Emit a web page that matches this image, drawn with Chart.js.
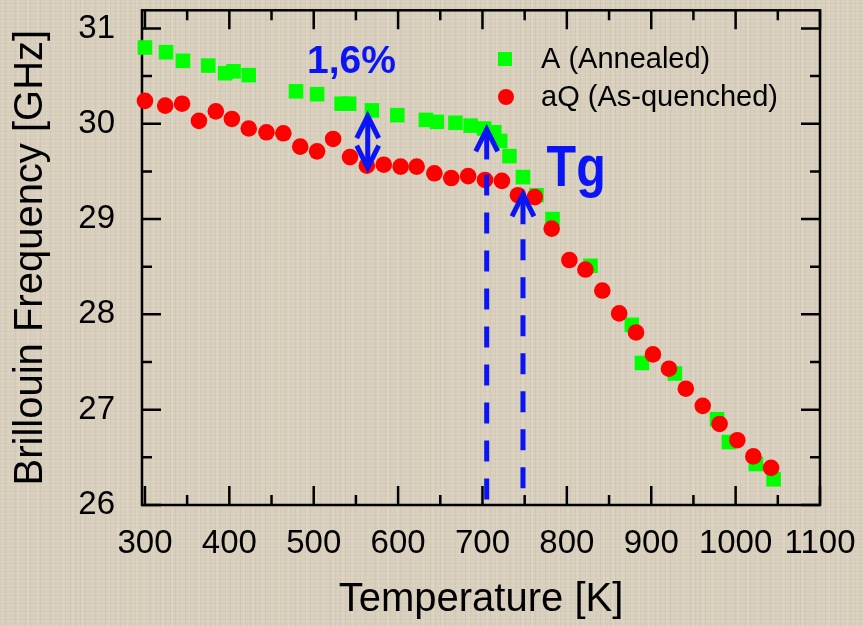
<!DOCTYPE html>
<html>
<head>
<meta charset="utf-8">
<script src="https://cdn.jsdelivr.net/npm/chart.js@4.4.0/dist/chart.umd.min.js"></script>
<style>
    html, body { margin: 0; padding: 0; }
    body {
        width: 863px;
        height: 626px;
        overflow: hidden;
        background-color: #d8cebc;
        background-image:
            repeating-linear-gradient(0deg, rgba(255, 255, 255, 0.10) 0 1px, transparent 1px 4px),
            repeating-linear-gradient(90deg, rgba(110, 95, 75, 0.07) 0 1px, transparent 1px 5px),
            repeating-linear-gradient(90deg, rgba(255, 255, 255, 0.08) 0 2px, transparent 2px 9px);
    }
</style>
</head>
<body>
<canvas id="chart" width="863" height="626"></canvas>
<script>
/* Brillouin frequency vs temperature, annealed vs as-quenched */

// A (Annealed) - green squares
const tempA = [300, 325, 345, 375, 395, 405, 423, 479, 504, 533, 542, 569, 599, 633, 646, 668,
               686, 702, 714, 721, 732, 748, 764, 783, 828, 877, 889, 928, 978, 992, 1024, 1045];
const freqA = [30.80, 30.75, 30.66, 30.61, 30.53, 30.55, 30.51, 30.34, 30.31, 30.21, 30.21, 30.14,
               30.09, 30.04, 30.02, 30.01, 29.98, 29.95, 29.91, 29.82, 29.66, 29.44, 29.25, 29.00,
               28.51, 27.89, 27.49, 27.38, 26.90, 26.66, 26.43, 26.27];

// aQ (As-quenched) - red circles
const tempQ = [300, 324, 344, 364, 384, 403, 423, 444, 464, 484, 504, 523, 543, 563, 583, 603,
               622, 643, 663, 683, 703, 723, 742, 762, 782, 803, 822, 842, 862, 882, 902, 921,
               941, 961, 981, 1002, 1021, 1042];
const freqQ = [30.24, 30.19, 30.21, 30.03, 30.13, 30.05, 29.95, 29.91, 29.90, 29.76, 29.71, 29.84,
               29.65, 29.56, 29.57, 29.55, 29.55, 29.48, 29.43, 29.45, 29.41, 29.40, 29.25, 29.23,
               28.90, 28.57, 28.47, 28.25, 28.01, 27.81, 27.58, 27.43, 27.22, 27.04, 26.85, 26.68,
               26.51, 26.39];

const seriesLabels = ['A (Annealed)', 'aQ (As-quenched)'];
const xTickLabels = [300, 400, 500, 600, 700, 800, 900, 1000, 1100];
const yTickLabels = [26, 27, 28, 29, 30, 31];

// annotations (data coords)
const tgLines = [[705, 29.94], [748, 29.26]];   // [T, arrow tip]
const gapArrow = [564, 30.08, 29.54];           // T, top tip, bottom tip

const BLUE = '#0a14f5';
const FONT = "'Liberation Sans', Arial, sans-serif";
Chart.defaults.font.family = FONT;
Chart.defaults.color = '#000';

const toPoints = (xs, ys) => xs.map((t, i) => ({ x: t, y: ys[i] }));

// box + inward ticks on all four sides
const frame = {
    id: 'frame',
    beforeDatasetsDraw(chart) {
        const { ctx, chartArea: a, scales: { x, y } } = chart;
        ctx.save();
        ctx.strokeStyle = '#000';
        ctx.lineWidth = 2.5;
        ctx.strokeRect(a.left, a.top, a.right - a.left, a.bottom - a.top);
        ctx.beginPath();
        for (let t = 300; t <= 1100; t += 50) {
            const len = t % 100 === 0 ? 19 : 10;
            const px = x.getPixelForValue(t);
            ctx.moveTo(px, a.bottom); ctx.lineTo(px, a.bottom - len);
            ctx.moveTo(px, a.top); ctx.lineTo(px, a.top + len);
        }
        for (let v = 26; v <= 31; v += 0.5) {
            const len = v % 1 === 0 ? 19 : 10;
            const py = y.getPixelForValue(v);
            ctx.moveTo(a.left, py); ctx.lineTo(a.left + len, py);
            ctx.moveTo(a.right, py); ctx.lineTo(a.right - len, py);
        }
        ctx.stroke();
        ctx.restore();
    }
};

function chevron(ctx, x, y, dir) {
    // dir 1: tip points up, -1: tip points down
    ctx.beginPath();
    ctx.moveTo(x - 11, y + dir * 22);
    ctx.lineTo(x, y);
    ctx.lineTo(x + 11, y + dir * 22);
    ctx.stroke();
}

const annotations = {
    id: 'annotations',
    afterDatasetsDraw(chart) {
        const { ctx, chartArea: a, scales: { x, y } } = chart;
        ctx.save();
        ctx.strokeStyle = BLUE;
        ctx.fillStyle = BLUE;
        ctx.lineWidth = 5;
        ctx.lineJoin = 'miter';

        // Tg dashed markers
        tgLines.forEach(([t, tip]) => {
            const px = x.getPixelForValue(t);
            const py = y.getPixelForValue(tip);
            ctx.setLineDash([]);
            ctx.beginPath();
            ctx.moveTo(px, py + 2);
            ctx.lineTo(px, py + 30);
            ctx.stroke();
            chevron(ctx, px, py, 1);
            ctx.setLineDash([21, 17]);
            ctx.beginPath();
            ctx.moveTo(px, py + 45);
            ctx.lineTo(px, a.bottom);
            ctx.stroke();
        });
        ctx.setLineDash([]);

        // double arrow for the 1,6% gap
        const gx = x.getPixelForValue(gapArrow[0]);
        const gTop = y.getPixelForValue(gapArrow[1]);
        const gBot = y.getPixelForValue(gapArrow[2]);
        ctx.beginPath();
        ctx.moveTo(gx, gTop + 2);
        ctx.lineTo(gx, gBot - 2);
        ctx.stroke();
        chevron(ctx, gx, gTop, 1);
        chevron(ctx, gx, gBot, -1);

        // labels
        ctx.textAlign = 'left';
        ctx.textBaseline = 'alphabetic';
        ctx.font = 'bold 39px ' + FONT;
        ctx.fillText('1,6%', x.getPixelForValue(492), y.getPixelForValue(30.53));

        ctx.save();
        ctx.translate(x.getPixelForValue(776), y.getPixelForValue(29.35));
        ctx.scale(0.85, 1);
        ctx.font = 'bold 57px ' + FONT;
        ctx.fillText('Tg', 0, 0);
        ctx.restore();

        ctx.restore();
    }
};

// legend in the upper right of the plot
const legendBox = {
    id: 'legendBox',
    afterDraw(chart) {
        const { ctx } = chart;
        const rows = [
            { y: 59, base: 68, ds: chart.data.datasets[0] },
            { y: 97, base: 106, ds: chart.data.datasets[1] }
        ];
        ctx.save();
        ctx.font = '29px ' + FONT;
        ctx.textAlign = 'left';
        rows.forEach(r => {
            ctx.fillStyle = r.ds.backgroundColor;
            ctx.beginPath();
            if (r.ds.pointStyle === 'rect') {
                ctx.rect(498, r.y - 7, 14, 14);
            } else {
                ctx.arc(506, r.y, 8, 0, Math.PI * 2);
            }
            ctx.fill();
            ctx.fillStyle = '#000';
            ctx.fillText(r.ds.label, 541, r.base);
        });
        ctx.restore();
    }
};

new Chart(document.getElementById('chart'), {
    type: 'scatter',
    data: {
        datasets: [
            {
                label: seriesLabels[0],
                data: toPoints(tempA, freqA),
                pointStyle: 'rect',
                pointRadius: 10.3,
                backgroundColor: '#00ff00',
                borderWidth: 0,
                order: 2,
                clip: false
            },
            {
                label: seriesLabels[1],
                data: toPoints(tempQ, freqQ),
                pointStyle: 'circle',
                pointRadius: 8.3,
                backgroundColor: '#ff0000',
                borderWidth: 0,
                order: 1,
                clip: false
            }
        ]
    },
    options: {
        responsive: false,
        animation: false,
        layout: { padding: { top: 7, right: 43, left: 0, bottom: 0 } },
        plugins: {
            legend: { display: false },
            tooltip: { enabled: false }
        },
        scales: {
            x: {
                type: 'linear',
                min: 296.5,
                max: 1100,
                afterBuildTicks: (s) => { s.ticks = xTickLabels.map(v => ({ value: v })); },
                afterFit: (s) => {
                    s.height = 121;
                    s.paddingLeft = 0;
                    s.paddingRight = 0;
                },
                grid: { display: false, drawTicks: false },
                border: { display: false },
                ticks: {
                    font: { size: 33 },
                    color: '#000',
                    padding: 19,
                    maxRotation: 0,
                    autoSkip: false,
                    callback: (v) => String(v)
                },
                title: {
                    display: true,
                    text: 'Temperature [K]',
                    font: { size: 40 },
                    color: '#000',
                    padding: { top: 0, bottom: 2 }
                }
            },
            y: {
                type: 'linear',
                min: 26,
                max: 31.19,
                afterBuildTicks: (s) => { s.ticks = yTickLabels.map(v => ({ value: v })); },
                afterFit: (s) => {
                    s.width = 142;
                    s.paddingTop = 0;
                    s.paddingBottom = 0;
                },
                grid: { display: false, drawTicks: false },
                border: { display: false },
                ticks: {
                    font: { size: 33 },
                    color: '#000',
                    padding: 27,
                    callback: (v) => String(v)
                },
                title: {
                    display: true,
                    text: 'Brillouin Frequency [GHz]',
                    font: { size: 40 },
                    color: '#000',
                    padding: { top: 7, bottom: 0 }
                }
            }
        }
    },
    plugins: [frame, annotations, legendBox]
});
</script>
</body>
</html>
